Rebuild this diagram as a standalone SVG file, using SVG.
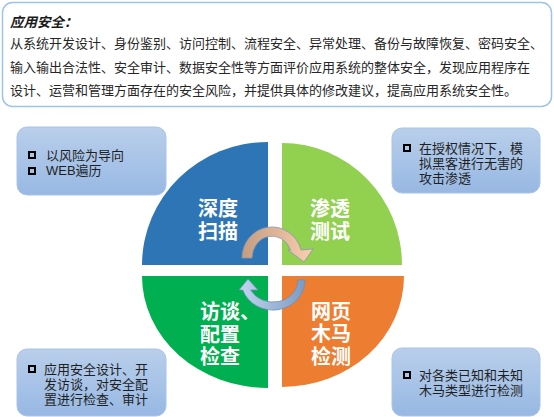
<svg xmlns="http://www.w3.org/2000/svg" width="554" height="417" viewBox="0 0 554 417">
<defs>
<style>
text{font-family:"Liberation Sans","Noto Sans CJK SC",sans-serif;}
.body{font-size:13px;fill:#262626;}
.side{font-size:13px;fill:#1f1f1f;}
.quad{font-size:20px;font-weight:bold;fill:#ffffff;}
.box{fill:url(#boxg);stroke:#a9c4e8;stroke-width:1;}
.chk{fill:none;stroke:#000;stroke-width:2;}
</style>
<linearGradient id="boxg" x1="0" y1="0" x2="0" y2="1">
<stop offset="0" stop-color="#b9cfeb"/>
<stop offset="1" stop-color="#97b8e3"/>
</linearGradient>
<linearGradient id="upg" x1="0" y1="0" x2="1" y2="0">
<stop offset="0" stop-color="#c49c80"/>
<stop offset="1" stop-color="#fbcfb0"/>
</linearGradient>
<linearGradient id="lowg" x1="1" y1="0" x2="0" y2="0">
<stop offset="0" stop-color="#7b9bc4"/>
<stop offset="1" stop-color="#c3d6ef"/>
</linearGradient>
</defs>
<rect width="554" height="417" fill="#ffffff"/>

<g id="intro">
<rect x="2.5" y="2.5" width="549" height="104" rx="10" fill="#ffffff" stroke="#9dc3e6" stroke-width="1.5"/>
<text x="10" y="27" style="font-size:13.5px;font-weight:bold;font-style:italic;fill:#1a1a1a">应用安全：</text>
<text class="body" x="10" y="48">从系统开发设计、身份鉴别、访问控制、流程安全、异常处理、备份与故障恢复、密码安全、</text>
<text class="body" x="10" y="71.5">输入输出合法性、安全审计、数据安全性等方面评价应用系统的整体安全，发现应用程序在</text>
<text class="body" x="10" y="95">设计、运营和管理方面存在的安全风险，并提供具体的修改建议，提高应用系统安全性。</text>
</g>

<g id="q-scan">
<path d="M268,265 L142,265 A126,123 0 0 1 268,142 Z" fill="#2e75b6"/>
<text class="quad" x="218" y="215.5" text-anchor="middle">深度</text>
<text class="quad" x="218" y="238.5" text-anchor="middle">扫描</text>
</g>
<g id="q-pentest">
<path d="M282,265 L282,143 A120,122 0 0 1 402,265 Z" fill="#92d050"/>
<text class="quad" x="330" y="215.5" text-anchor="middle">渗透</text>
<text class="quad" x="330" y="238.5" text-anchor="middle">测试</text>
</g>
<g id="q-interview">
<path d="M268,276 L268,388 A126,112 0 0 1 142,276 Z" fill="#00b050"/>
<text class="quad" x="200" y="319">访谈、</text>
<text class="quad" x="200" y="341.5">配置</text>
<text class="quad" x="200" y="364">检查</text>
</g>
<g id="q-trojan">
<path d="M282,276 L404,276 A122,111 0 0 1 282,387 Z" fill="#ed7d31"/>
<text class="quad" x="331" y="318.5" text-anchor="middle">网页</text>
<text class="quad" x="331" y="341" text-anchor="middle">木马</text>
<text class="quad" x="331" y="364" text-anchor="middle">检测</text>
</g>

<g id="connectors">
<path d="M242,258 A30,31 0 0 1 301,250 L313,249 L304,262 L288,250 L290.6,250 A20,22 0 0 0 252,258 Z" fill="url(#upg)" stroke="#8597b3" stroke-width="0.8"/>
<path d="M305,280 A32,30 0 0 1 242.8,290 L239,290 L248,279 L258,290 L250.7,290 A25,22 0 0 0 298,280 Z" fill="url(#lowg)" stroke="#6f8db5" stroke-width="0.8"/>
</g>

<g id="note-scan">
<rect class="box" x="17" y="127" width="149" height="68" rx="10"/>
<rect class="chk" x="29" y="152" width="6" height="6"/>
<text class="side" x="46" y="159.5">以风险为导向</text>
<rect class="chk" x="29" y="168" width="6" height="6"/>
<text class="side" x="46" y="175">WEB遍历</text>
</g>
<g id="note-pentest">
<rect class="box" x="392" y="128" width="148" height="65" rx="10"/>
<rect class="chk" x="404" y="145" width="6" height="6"/>
<text class="side" x="419" y="152.5">在授权情况下，模</text>
<text class="side" x="419" y="167.5">拟黑客进行无害的</text>
<text class="side" x="419" y="182.5">攻击渗透</text>
</g>
<g id="note-interview">
<rect class="box" x="17" y="349" width="149" height="67" rx="10"/>
<rect class="chk" x="29" y="366" width="6" height="6"/>
<text class="side" x="44" y="373.5">应用安全设计、开</text>
<text class="side" x="44" y="388.5">发访谈，对安全配</text>
<text class="side" x="44" y="403.5">置进行检查、审计</text>
</g>
<g id="note-trojan">
<rect class="box" x="392" y="348" width="148" height="68" rx="10"/>
<rect class="chk" x="404" y="372" width="6" height="6"/>
<text class="side" x="419" y="379.5">对各类已知和未知</text>
<text class="side" x="419" y="394.5">木马类型进行检测</text>
</g>
</svg>
